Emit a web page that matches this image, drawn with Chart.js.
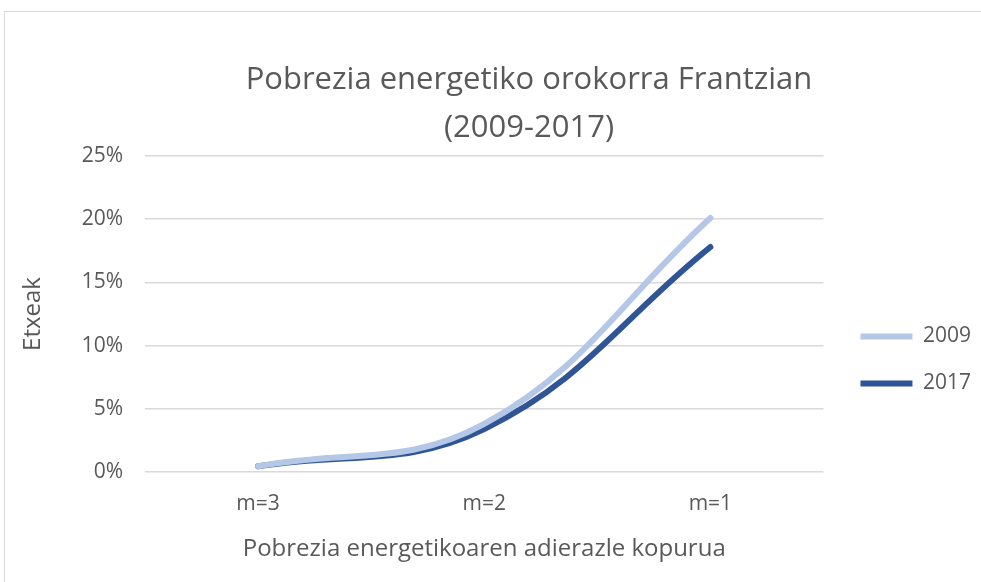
<!DOCTYPE html>
<html>
<head>
<meta charset="utf-8">
<script src="https://cdn.jsdelivr.net/npm/chart.js@4"></script>
<style>
  body { margin: 0; background: #fff; }
  #frame { position: absolute; left: 4px; top: 11px; width: 990px; height: 590px; border: 1px solid #d9d9d9; }
  #wrap { position: absolute; left: 0; top: 0; width: 981px; height: 582px; }
</style>
</head>
<body>
<div id="frame"></div>
<div id="wrap"><canvas id="myChart"></canvas></div>
<script>
// categories and values (percent of households)
const categories = ['m=3', 'm=2', 'm=1'];
const values2009 = [0.45, 3.8, 20.1];
const values2017 = [0.45, 3.4, 17.8];
const yTicks = [0, 5, 10, 15, 20, 25];
const titleLines = ['Pobrezia energetiko orokorra Frantzian', '(2009-2017)'];

const font = "'Open Sans', 'Liberation Sans', sans-serif";
const grey = '#595959';

// chart title, centred like the Excel one (on the frame, not the canvas)
const titlePlugin = {
  id: 'excelTitle',
  afterLayout(chart) {
    // nudge the legend a bit away from the plot, let it run to the canvas edge
    const lg = chart.legend;
    lg.left += 11;
    lg.right = chart.width;
    lg.width = lg.right - lg.left;
  },
  afterDraw(chart) {
    const c = chart.ctx;
    c.save();
    c.fillStyle = grey;
    c.font = '31px ' + font;
    c.textAlign = 'center';
    c.textBaseline = 'middle';
    c.fillText(titleLines[0], 529, 80);
    c.fillText(titleLines[1], 529, 128);
    c.restore();
  }
};

const ctx = document.getElementById('myChart');
new Chart(ctx, {
  type: 'line',
  data: {
    labels: categories,
    datasets: [
      {
        label: '2009',
        data: values2009,
        borderColor: '#B4C7E7',
        backgroundColor: '#B4C7E7',
        borderWidth: 6,
        borderCapStyle: 'round',
        pointRadius: 0,
        tension: 0.4
      },
      {
        label: '2017',
        data: values2017,
        borderColor: '#2F5597',
        backgroundColor: '#2F5597',
        borderWidth: 6,
        borderCapStyle: 'round',
        pointRadius: 0,
        tension: 0.4
      }
    ]
  },
  plugins: [titlePlugin],
  options: {
    responsive: true,
    maintainAspectRatio: false,
    animation: false,
    layout: { padding: { left: 4, right: 11, top: 156, bottom: 18 } },
    plugins: {
      title: { display: false },
      legend: {
        position: 'right',
        labels: {
          usePointStyle: true,
          pointStyle: 'line',
          pointStyleWidth: 52,
          padding: 26,
          color: grey,
          font: { family: font, size: 21 }
        }
      },
      tooltip: { enabled: false }
    },
    scales: {
      x: {
        offset: true,
        afterFit: axis => { axis.height = 92; },
        grid: { display: false, drawTicks: false },
        border: { display: false },
        ticks: { color: grey, font: { family: font, size: 21 }, padding: 19 },
        title: {
          display: true,
          text: 'Pobrezia energetikoaren adierazle kopurua',
          color: grey,
          font: { family: font, size: 24 },
          padding: { top: 17, bottom: 0 }
        }
      },
      y: {
        min: 0,
        max: 25,
        afterBuildTicks: axis => { axis.ticks = yTicks.map(v => ({ value: v })); },
        afterFit: axis => { axis.width = 141; },
        grid: { color: '#d9d9d9', lineWidth: 1.5, drawTicks: false },
        border: { display: false },
        ticks: {
          color: grey,
          font: { family: font, size: 21 },
          padding: 22,
          callback: v => v + '%'
        },
        title: {
          display: true,
          text: 'Etxeak',
          color: grey,
          font: { family: font, size: 24 },
          padding: { top: 15, bottom: 0 }
        }
      }
    }
  }
});
</script>
</body>
</html>
